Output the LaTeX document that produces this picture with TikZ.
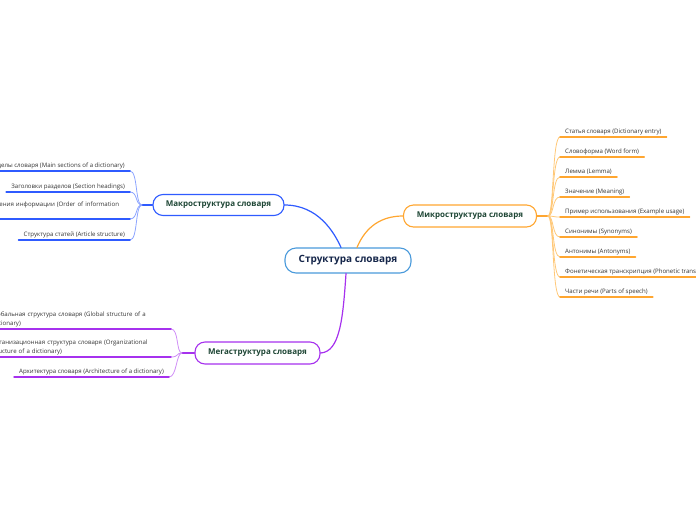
\documentclass[tikz,border=0pt]{standalone}
\usepackage{fontspec}
\setmainfont{Open Sans}
\usepackage{tikz}
\usetikzlibrary{positioning,calc}
\definecolor{rootblue}{HTML}{4A9ADB}
\definecolor{roottext}{HTML}{15264A}
\definecolor{topictext}{HTML}{1E4635}
\definecolor{leaftext}{HTML}{333333}
\definecolor{macroc}{HTML}{2F5BFF}
\definecolor{macrof}{HTML}{8CA4FF}
\definecolor{microc}{HTML}{FFA630}
\definecolor{microf}{HTML}{FFC878}
\definecolor{megac}{HTML}{A631EE}
\definecolor{megaf}{HTML}{CF8EF6}

\begin{document}
\begin{tikzpicture}[x=1pt,y=-1pt,line cap=round]
        \tikzstyle{root} = [draw=rootblue, line width=1.1pt, rounded corners=11pt, fill=white, minimum width=126pt, minimum height=25pt, inner sep=0pt, text=roottext, font=\bfseries\fontsize{10}{12}\selectfont]
        \tikzstyle{topic} = [draw, line width=1.1pt, rounded corners=10pt, fill=white, minimum height=21pt, inner sep=0pt, text=topictext, font=\bfseries\fontsize{8}{9}\selectfont]
        \tikzstyle{leaf} = [inner xsep=5pt, inner ysep=2pt, text height=4.7pt, text depth=1.5pt, text=leaftext, font=\fontsize{6.1}{9}\selectfont]
        \tikzstyle{leaflong} = [inner xsep=5pt, inner ysep=2pt, text width=182pt, align=left, text=leaftext, font=\fontsize{6.1}{9}\selectfont]
        \tikzstyle{branch} = [line width=1.2pt]
        \tikzstyle{under} = [line width=1.5pt]
        \tikzstyle{fan} = [line width=0.8pt]

        \clip (0,0) rectangle (696,520);

        % Nodes
        \node[root] (root) at (348,260.5) {Структура словаря};
        \node[topic, draw=macroc, minimum width=131pt] (macro) at (218.5,205) {Макроструктура словаря};
        \node[topic, draw=microc, minimum width=133pt, minimum height=22pt] (micro) at (470,216) {Микроструктура словаря};
        \node[topic, draw=megac, minimum width=125pt, minimum height=22pt] (mega) at (257.5,353) {Мегаструктура словаря};

        % Macro leaves
        \node[leaf, anchor=south east] (ma1) at (130,171) {Разделы словаря (Main sections of a dictionary)};
        \node[leaf, anchor=south east] (ma2) at (130,192) {Заголовки разделов (Section headings)};
        \node[leaflong, anchor=south east] (ma3) at (130,219) {Порядок расположения информации (Order of information\\presentation)};
        \node[leaf, anchor=south east] (ma4) at (130,240) {Структура статей (Article structure)};

        % Micro leaves
        \node[leaf, anchor=south west] (mi1) at (560,137) {Статья словаря (Dictionary entry)};
        \node[leaf, anchor=south west] (mi2) at (560,157) {Словоформа (Word form)};
        \node[leaf, anchor=south west] (mi3) at (560,177) {Лемма (Lemma)};
        \node[leaf, anchor=south west] (mi4) at (560,197) {Значение (Meaning)};
        \node[leaf, anchor=south west] (mi5) at (560,217) {Пример использования (Example usage)};
        \node[leaf, anchor=south west] (mi6) at (560,237) {Синонимы (Synonyms)};
        \node[leaf, anchor=south west] (mi7) at (560,257) {Антонимы (Antonyms)};
        \node[leaf, anchor=south west] (mi8) at (560,277) {Фонетическая транскрипция (Phonetic transcription)};
        \node[leaf, anchor=south west] (mi9) at (560,297) {Части речи (Parts of speech)};

        % Mega leaves
        \node[leaflong, text width=175pt, anchor=south east] (me1) at (171,329) {Глобальная структура словаря (Global structure of a\\dictionary)};
        \node[leaflong, text width=175pt, anchor=south east] (me2) at (171,357) {Организационная структура словаря (Organizational\\structure of a dictionary)};
        \node[leaf, anchor=south east] (me3) at (169,377) {Архитектура словаря (Architecture of a dictionary)};

        \coordinate (macroj) at (142,205);
        \coordinate (microj) at (548,216);
        \coordinate (megaj) at (182,353);

        % Edges
        \draw[branch, macroc] (macro.east) .. controls (318,205) and (334,232) .. ([xshift=-7pt]root.north);
        \draw[branch, microc] ([xshift=9pt]root.north) .. controls (366,226) and (382,216) .. (micro.west);
        \draw[branch, megac] ([xshift=-2pt]root.south) .. controls (343,318) and (340,352) .. (mega.east);

        \draw[branch, macroc] (macro.west) -- (macroj);
        \draw[branch, microc] (micro.east) -- (microj);
        \draw[branch, megac] (mega.west) -- (megaj);

        \foreach \n in {ma1,ma2,ma3,ma4} {
            \draw[fan, macrof] (macroj) .. controls +(-7,0) and +(8,0) .. (\n.south east);
            \draw[under, macroc] (\n.south west) -- (\n.south east);
        }
        \foreach \n in {mi1,mi2,mi3,mi4,mi5,mi6,mi7,mi8,mi9} {
            \draw[fan, microf] (microj) .. controls +(6,0) and +(-8,0) .. (\n.south west);
            \draw[under, microc] (\n.south west) -- (\n.south east);
        }
        \foreach \n in {me1,me2,me3} {
            \draw[fan, megaf] (megaj) .. controls +(-6,0) and +(8,0) .. (\n.south east);
            \draw[under, megac] (\n.south west) -- (\n.south east);
        }
\end{tikzpicture}
\end{document}
